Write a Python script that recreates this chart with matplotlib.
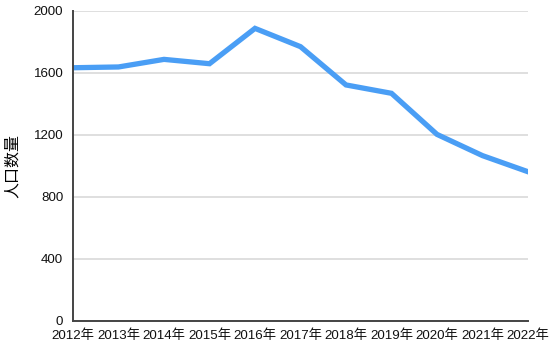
import matplotlib
matplotlib.use('Agg')
import matplotlib.pyplot as plt

plt.rcParams['font.family'] = ['Liberation Sans', 'Noto Sans CJK SC', 'DejaVu Sans']

years = ['2012年', '2013年', '2014年', '2015年', '2016年', '2017年',
         '2018年', '2019年', '2020年', '2021年', '2022年']
population = [1632, 1637, 1686, 1658, 1886, 1768, 1521, 1467, 1202, 1065, 961]
yticks = [0, 400, 800, 1200, 1600, 2000]

fig = plt.figure(figsize=(5.54, 3.49), dpi=100)
ax = fig.add_axes([73 / 554, 1 - 320.7 / 349, (528 - 73) / 554, (320.7 - 10.7) / 349])

x = list(range(len(years)))
ax.plot(x, population, color='#4a9ef5', linewidth=3.8, solid_joinstyle='miter', zorder=3)

ax.set_xlim(0, len(years) - 1)
ax.set_ylim(0, 2000)
ax.set_xticks(x)
ax.set_xticklabels(years)
ax.set_yticks(yticks)
ax.tick_params(length=0, labelsize=9.6, colors='#111111')
ax.tick_params(axis='x', pad=6.5)
ax.tick_params(axis='y', pad=7)
ax.grid(axis='y', color='#d9d9d9', linewidth=1.2)
ax.set_axisbelow(True)

for side in ['top', 'right']:
    ax.spines[side].set_visible(False)
for side in ['left', 'bottom']:
    ax.spines[side].set_color('#444444')
    ax.spines[side].set_linewidth(1.4)
ax.spines['left'].set_zorder(4)

ax.set_ylabel('人口数量', fontsize=11.5, labelpad=10)

fig.savefig('out.png', dpi=100)
